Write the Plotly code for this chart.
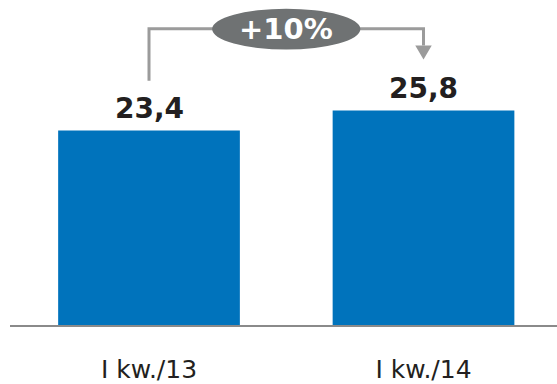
import plotly.graph_objects as go

categories = ["I kw./13", "I kw./14"]
values = [23.4, 25.8]

bar_color = "#0073BC"
line_gray = "#9B9B9B"
ellipse_gray = "#6F7273"
text_dark = "#231F20"

labels = [f"{v:.1f}".replace(".", ",") for v in values]
pct = (values[1] / values[0] - 1) * 100
pct_label = f"+{pct:.0f}%"

fig = go.Figure()
fig.add_trace(go.Bar(
    x=categories, y=values, width=0.662,
    marker=dict(color=bar_color, line=dict(width=0)),
    hoverinfo="skip",
))

# value labels
for c, v, t in zip(categories, values, labels):
    fig.add_annotation(x=c, y=v, text=f"<b>{t}</b>", showarrow=False,
                       yanchor="bottom", yshift=4,
                       font=dict(family="DejaVu Sans", size=28, color=text_dark))

# bracket geometry derived from values
y_left_start = values[0] + 6.0
y_top = max(values) + 9.85
y_tip = values[1] + 6.15
head_h = 1.67
head_hw = 0.03
ell_cy = y_top - 0.05
ell_ry = 2.45
ell_rx = 0.27

fig.add_shape(type="path",
              path=f"M 0,{y_left_start} L 0,{y_top} L 1,{y_top} L 1,{y_tip + head_h}",
              xref="x", yref="y", line=dict(color=line_gray, width=3))
fig.add_shape(type="path",
              path=f"M {1 - head_hw},{y_tip + head_h} L {1 + head_hw},{y_tip + head_h} L 1,{y_tip} Z",
              xref="x", yref="y", fillcolor=line_gray, line=dict(color=line_gray, width=0))
fig.add_shape(type="circle", xref="x", yref="y",
              x0=0.5 - ell_rx, x1=0.5 + ell_rx, y0=ell_cy - ell_ry, y1=ell_cy + ell_ry,
              fillcolor=ellipse_gray, line=dict(width=0))
fig.add_annotation(x=0.5, y=ell_cy, text=f"<b>{pct_label}</b>", showarrow=False,
                   xref="x", yref="y", yanchor="middle",
                   font=dict(family="DejaVu Sans", size=29, color="white"))

fig.update_layout(
    width=557, height=384,
    margin=dict(l=10, r=0, t=0, b=56),
    paper_bgcolor="white", plot_bgcolor="white",
    showlegend=False,
    xaxis=dict(type="category", range=[-0.5064, 1.4863], showline=True,
               linecolor="#8A8A8A", linewidth=2, showgrid=False, zeroline=False,
               ticks="outside", ticklen=21, tickcolor="rgba(0,0,0,0)",
               tickfont=dict(family="DejaVu Sans", size=25, color=text_dark)),
    yaxis=dict(range=[0, 39.1], visible=False, showgrid=False, zeroline=False),
)

fig.write_html("out.html", config={"displayModeBar": False, "staticPlot": True},
               post_script="document.body.style.margin='0';document.body.style.overflow='hidden';")
